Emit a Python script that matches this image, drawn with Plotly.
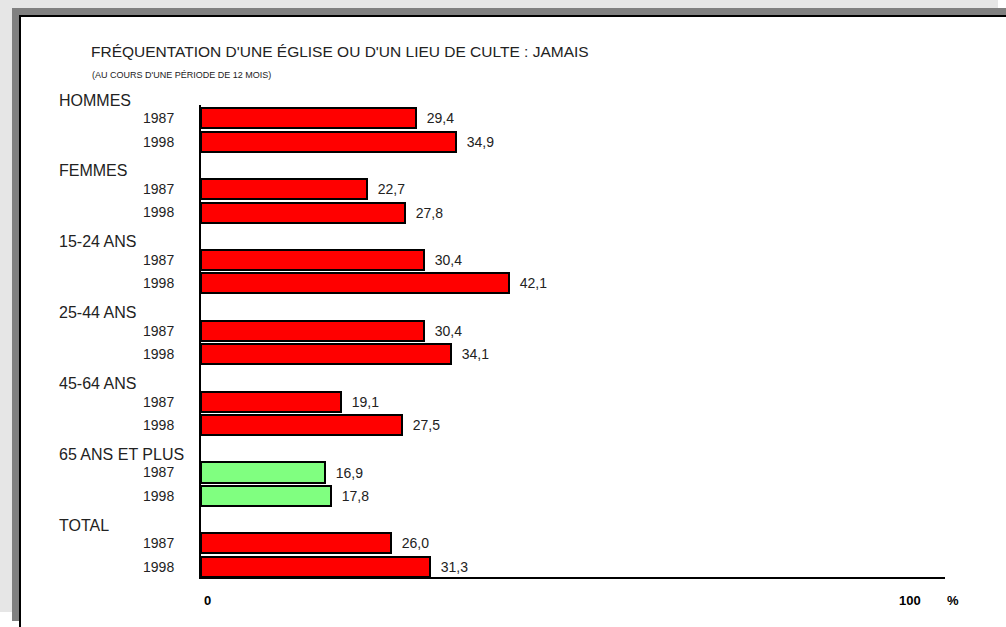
import plotly.graph_objects as go

# données
groupes = ["HOMMES", "FEMMES", "15-24 ANS", "25-44 ANS", "45-64 ANS", "65 ANS ET PLUS", "TOTAL"]
annees = ["1987", "1998"]
v1987 = [29.4, 22.7, 30.4, 30.4, 19.1, 16.9, 26.0]
v1998 = [34.9, 27.8, 42.1, 34.1, 27.5, 17.8, 31.3]
couleurs = ["#ff0000", "#ff0000", "#ff0000", "#ff0000", "#ff0000", "#80ff80", "#ff0000"]

W, H = 1006, 627
L, R, T, B = 201, 945, 105, 577   # zone de tracé en pixels
Y0, Y1 = 20.42, 0.45              # plage de l'axe y (inversée)


def px(x):
    return (x - L) / (R - L)


def py(y):
    return (B - y) / (B - T)


def pos_paper(v):
    # position de l'axe y -> coordonnée papier
    return (Y0 - v) / (Y0 - Y1)


def fmt(v):
    return "\u00a0\u00a0" + f"{v:.1f}".replace(".", ",")


fig = go.Figure()
for k, (an, vals) in enumerate(zip(annees, [v1987, v1998])):
    pos = [g * 3 + 1 + k for g in range(len(groupes))]
    fig.add_trace(go.Bar(
        x=vals, y=pos, orientation="h", width=0.85,
        marker=dict(color=couleurs, line=dict(color="black", width=2)),
        text=[fmt(v) for v in vals], textposition="outside", cliponaxis=False,
        textfont=dict(size=14, color="#222222"), name=an, showlegend=False,
    ))

tickvals, ticktext = [], []
for g in range(len(groupes)):
    for k, an in enumerate(annees):
        tickvals.append(g * 3 + 1 + k)
        ticktext.append(an)

# cadre / ombre
shapes = [
    dict(type="rect", xref="paper", yref="paper", x0=px(0), x1=px(998), y0=py(0), y1=py(612),
         fillcolor="#e6e6e6", line_width=0, layer="below"),
    dict(type="rect", xref="paper", yref="paper", x0=px(12), x1=px(1020), y0=py(8), y1=py(621),
         fillcolor="#808080", line_width=0, layer="below"),
    dict(type="rect", xref="paper", yref="paper", x0=px(20), x1=px(1020), y0=py(16), y1=py(650),
         fillcolor="white", line=dict(color="black", width=2), layer="below"),
]

annotations = [
    dict(text="FRÉQUENTATION D'UNE ÉGLISE OU D'UN LIEU DE CULTE : JAMAIS", xref="paper", yref="paper",
         x=px(89), y=py(52), xanchor="left", yanchor="middle", showarrow=False,
         font=dict(size=15.5, color="#222222")),
    dict(text="(AU COURS D'UNE PÉRIODE DE 12 MOIS)", xref="paper", yref="paper",
         x=px(90), y=py(75), xanchor="left", yanchor="middle", showarrow=False,
         font=dict(size=9, color="#222222")),
    dict(text="<b>0</b>", xref="paper", yref="paper", x=px(202), y=py(600), xanchor="left", yanchor="middle",
         showarrow=False, font=dict(size=13, color="black")),
    dict(text="<b>100</b>", xref="paper", yref="paper", x=px(923), y=py(600), xanchor="right",
         yanchor="middle", showarrow=False, font=dict(size=13, color="black")),
    dict(text="<b>%</b>", xref="paper", yref="paper", x=px(945), y=py(600), xanchor="left",
         yanchor="middle", showarrow=False, font=dict(size=13, color="black")),
]
for g, nom in enumerate(groupes):
    annotations.append(dict(text=nom, xref="paper", yref="paper", x=px(57), y=pos_paper(g * 3 + 0.24),
                            xanchor="left", yanchor="middle", showarrow=False,
                            font=dict(size=16, color="#222222")))

fig.update_layout(
    width=W, height=H,
    margin=dict(l=L, r=W - R, t=T, b=H - B),
    paper_bgcolor="white", plot_bgcolor="white",
    font=dict(family="Liberation Sans, Arial, sans-serif", color="#222222"),
    shapes=shapes, annotations=annotations, bargap=0,
)
fig.update_xaxes(range=[0, (R - L) / 7.32], showgrid=False, zeroline=False, showticklabels=False,
                 showline=True, linecolor="black", linewidth=2, fixedrange=True)
fig.update_yaxes(range=[Y0, Y1], showgrid=False, zeroline=False, tickvals=tickvals,
                 ticktext=ticktext, ticks="", ticklabelstandoff=22, tickfont=dict(size=14, color="#222222"),
                 showline=True, linecolor="black", linewidth=2, fixedrange=True)

fig.write_html("out.html", config={"displayModeBar": False},
               post_script="document.body.style.margin='0';")
